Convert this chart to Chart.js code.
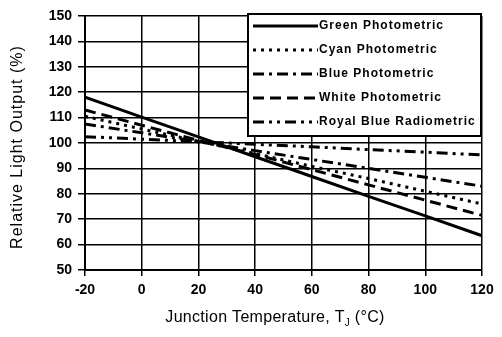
<!DOCTYPE html>
<html>
<head>
<meta charset="utf-8">
<script src="https://cdn.jsdelivr.net/npm/chart.js@4"></script>
<style>
  html, body { margin: 0; padding: 0; background: #fff; }
  #wrap { width: 502px; height: 337px; }
</style>
</head>
<body>
<div id="wrap"><canvas id="lightChart" width="502" height="337"></canvas></div>
<script>
// Junction temperature (degrees C)
const temperatures = [-20, 0, 20, 40, 60, 80, 100, 120];

// Relative light output (%)
const greenValues = [118, 110.2, 102.4, 94.6, 86.8, 79, 71.3, 63.5];
const cyanValues = [110.5, 105.5, 100.7, 95.8, 90.8, 86, 81, 76];
const blueValues = [107.5, 104, 100.5, 97, 93.5, 90, 86.5, 83];
const whiteValues = [113, 107, 101, 95.5, 89.5, 83.5, 77.5, 71.5];
const royalBlueValues = [102.5, 101.5, 100.5, 99.5, 98.5, 97.4, 96.4, 95.3];

const seriesLabels = ['Green Photometric', 'Cyan Photometric', 'Blue Photometric',
    'White Photometric', 'Royal Blue Radiometric'];

const font = '"Liberation Sans", Arial, sans-serif';

function makeSeries(label, values, dash) {
    return {
        label: label,
        data: temperatures.map((t, i) => ({ x: t, y: values[i] })),
        borderColor: '#000',
        borderWidth: 3,
        borderDash: dash,
        pointRadius: 0,
        fill: false,
        tension: 0
    };
}

// Boxed legend drawn over the top right of the plot
const boxLegend = {
    id: 'boxLegend',
    afterDraw(chart) {
        const ctx = chart.ctx;
        const x = 248, y = 14, w = 233, h = 122;
        ctx.save();
        ctx.fillStyle = '#fff';
        ctx.fillRect(x, y, w, h);
        ctx.strokeStyle = '#000';
        ctx.lineWidth = 2;
        ctx.strokeRect(x, y, w, h);
        chart.data.datasets.forEach((ds, i) => {
            const ly = y + 12 + i * 24;
            ctx.beginPath();
            ctx.setLineDash(ds.borderDash || []);
            ctx.lineWidth = 3;
            ctx.moveTo(x + 5, ly);
            ctx.lineTo(x + 70, ly);
            ctx.stroke();
            ctx.setLineDash([]);
            ctx.fillStyle = '#000';
            ctx.font = 'bold 12px ' + font;
            ctx.letterSpacing = '1px';
            ctx.textBaseline = 'middle';
            ctx.textAlign = 'left';
            ctx.fillText(ds.label, x + 71, ly);
        });
        ctx.restore();
    }
};

// Axis titles, with the subscript J on the x title
const axisTitles = {
    id: 'axisTitles',
    afterDraw(chart) {
        const ctx = chart.ctx;
        ctx.save();
        ctx.fillStyle = '#000';
        ctx.textBaseline = 'middle';
        ctx.letterSpacing = '1px';
        ctx.font = '16px ' + font;

        ctx.save();
        ctx.translate(18, 147);
        ctx.rotate(-Math.PI / 2);
        ctx.textAlign = 'center';
        ctx.fillText('Relative Light Output (%)', 0, 0);
        ctx.restore();

        ctx.letterSpacing = '0.3px';
        const a = 'Junction Temperature, T';
        const b = 'J';
        const c = ' (\u00B0C)';
        ctx.textAlign = 'left';
        const wa = ctx.measureText(a).width;
        const wc = ctx.measureText(c).width;
        ctx.font = '10px ' + font;
        const wb = ctx.measureText(b).width;
        const start = 275 - (wa + wb + wc) / 2;
        ctx.font = '16px ' + font;
        ctx.fillText(a, start, 318);
        ctx.font = '10px ' + font;
        ctx.fillText(b, start + wa, 323);
        ctx.font = '16px ' + font;
        ctx.fillText(c, start + wa + wb, 318);
        ctx.restore();
    }
};

new Chart(document.getElementById('lightChart'), {
    type: 'line',
    data: {
        datasets: [
            makeSeries(seriesLabels[0], greenValues, []),
            makeSeries(seriesLabels[1], cyanValues, [3, 5]),
            makeSeries(seriesLabels[2], blueValues, [11, 5, 3, 5]),
            makeSeries(seriesLabels[3], whiteValues, [11, 6]),
            makeSeries(seriesLabels[4], royalBlueValues, [11, 5, 3, 5, 3, 5])
        ]
    },
    options: {
        responsive: false,
        animation: false,
        layout: { padding: { top: 16, right: 20, left: 0, bottom: 0 } },
        plugins: {
            legend: { display: false },
            tooltip: { enabled: false }
        },
        scales: {
            x: {
                type: 'linear',
                min: -20,
                max: 120,
                ticks: { stepSize: 20, color: '#000', padding: 6, font: { family: font, size: 14, weight: 'bold' } },
                grid: { color: '#000', lineWidth: 1.5, tickLength: 6 },
                border: { color: '#000', width: 2 },
                afterFit(scale) { scale.height = 67; }
            },
            y: {
                min: 50,
                max: 150,
                ticks: { stepSize: 10, color: '#000', padding: 6, font: { family: font, size: 14, weight: 'bold' } },
                grid: { color: '#000', lineWidth: 1.5, tickLength: 7 },
                border: { color: '#000', width: 2 },
                afterFit(scale) { scale.width = 85; }
            }
        }
    },
    plugins: [boxLegend, axisTitles]
});
</script>
</body>
</html>
